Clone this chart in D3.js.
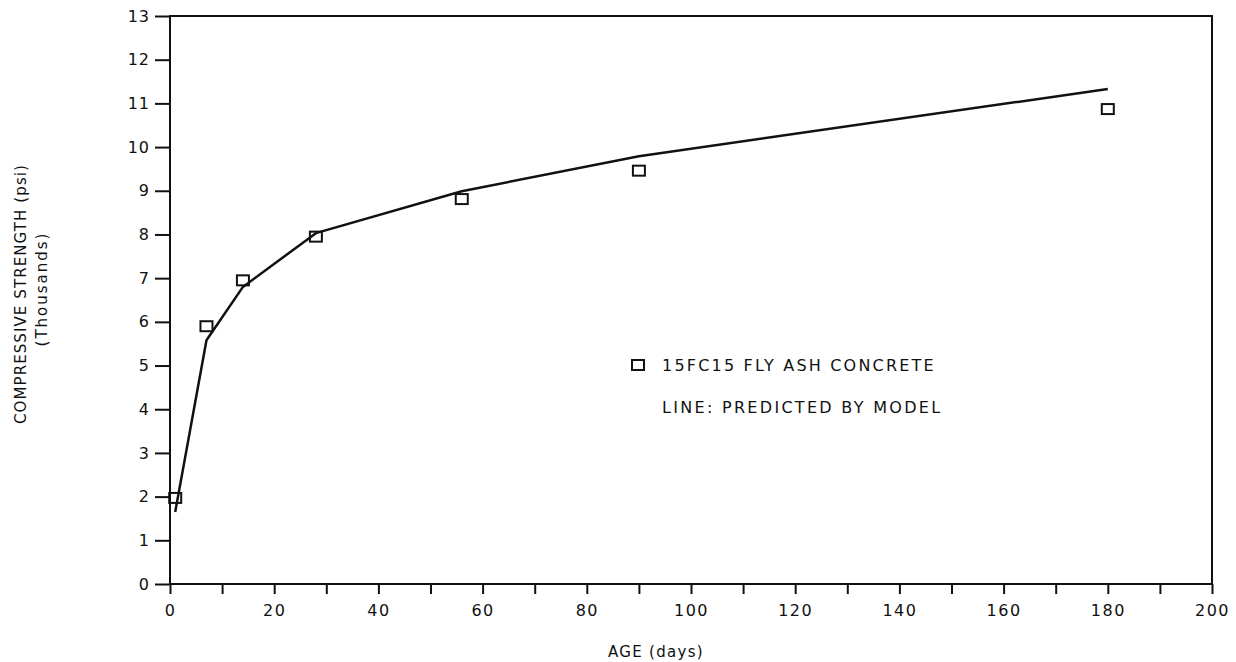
<!DOCTYPE html>
<html>
<head>
<meta charset="utf-8">
<script src="https://cdn.jsdelivr.net/npm/d3@7"></script>
<style>
  html, body { margin: 0; padding: 0; background: #fff; }
  svg { display: block; }
  text { font-family: "DejaVu Sans", sans-serif; fill: #111; }
</style>
</head>
<body>
<svg id="chart" width="1236" height="662"></svg>
<script>
// Measured data (age in days, strength in thousands psi)
const measuredAge = [1, 7, 14, 28, 56, 90, 180];
const measuredStrength = [1.97, 5.9, 6.95, 7.95, 8.81, 9.46, 10.87];

// Model line
const modelAge = [1, 7, 14, 28, 56, 90, 180];
const modelStrength = [1.65, 5.58, 6.8, 8.03, 8.99, 9.79, 11.33];

const xTicks = d3.range(0, 201, 10);
const xTickLabels = [0, 20, 40, 60, 80, 100, 120, 140, 160, 180, 200];
const yTicks = d3.range(0, 14, 1);

const legendLabels = ["15FC15 FLY ASH CONCRETE", "LINE: PREDICTED BY MODEL"];
const xTitle = "AGE (days)";
const yTitle1 = "COMPRESSIVE STRENGTH (psi)";
const yTitle2 = "(Thousands)";

const svg = d3.select("#chart");
const mLeft = 170, mRight = 1212, mTop = 16, mBottom = 584;

const x = d3.scaleLinear().domain([0, 200]).range([mLeft, mRight]);
const y = d3.scaleLinear().domain([0, 13]).range([mBottom, mTop]);

// Frame
svg.append("rect")
  .attr("x", mLeft).attr("y", mTop)
  .attr("width", mRight - mLeft).attr("height", mBottom - mTop)
  .attr("fill", "none").attr("stroke", "#111").attr("stroke-width", 2);

// Y axis
const yAxis = svg.append("g")
  .attr("transform", `translate(${mLeft},0)`)
  .call(d3.axisLeft(y).tickValues(yTicks).tickSize(15).tickPadding(5).tickFormat(d3.format("d")));
yAxis.select(".domain").remove();
yAxis.selectAll(".tick line").attr("stroke", "#111").attr("stroke-width", 2);
yAxis.selectAll(".tick text").style("font-size", "16px").attr("fill", "#111").attr("letter-spacing", "1px");

// X axis
const xAxis = svg.append("g")
  .attr("transform", `translate(0,${mBottom})`)
  .call(d3.axisBottom(x).tickValues(xTicks).tickSize(10).tickPadding(11)
    .tickFormat(d => xTickLabels.includes(d) ? d3.format("d")(d) : ""));
xAxis.select(".domain").remove();
xAxis.selectAll(".tick line").attr("stroke", "#111").attr("stroke-width", 2);
xAxis.selectAll(".tick text").style("font-size", "16px").attr("fill", "#111").attr("letter-spacing", "1.5px");

// Model line
const line = d3.line().x(d => x(d[0])).y(d => y(d[1]));
svg.append("path")
  .datum(modelAge.map((a, i) => [a, modelStrength[i]]))
  .attr("d", line)
  .attr("fill", "none").attr("stroke", "#111").attr("stroke-width", 2.5)
  .attr("stroke-linejoin", "round");

// Measured markers
const mw = 12, mh = 10;
svg.selectAll("rect.pt")
  .data(measuredAge.map((a, i) => [a, measuredStrength[i]]))
  .join("rect")
  .attr("class", "pt")
  .attr("x", d => x(d[0]) - mw / 2)
  .attr("y", d => y(d[1]) - mh / 2)
  .attr("width", mw).attr("height", mh)
  .attr("fill", "none").attr("stroke", "#111").attr("stroke-width", 2);

// Legend
svg.append("rect")
  .attr("x", 638 - mw / 2).attr("y", 365 - mh / 2)
  .attr("width", mw).attr("height", mh)
  .attr("fill", "none").attr("stroke", "#111").attr("stroke-width", 2);
svg.append("text").attr("x", 662).attr("y", 371)
  .style("font-size", "16px").attr("letter-spacing", "2.2px").text(legendLabels[0]);
svg.append("text").attr("x", 662).attr("y", 413)
  .style("font-size", "16px").attr("letter-spacing", "2.3px").text(legendLabels[1]);

// Axis titles
svg.append("text").attr("x", 656).attr("y", 657)
  .attr("text-anchor", "middle").style("font-size", "15px").attr("letter-spacing", "1.3px").text(xTitle);
svg.append("text")
  .attr("transform", "translate(26,294) rotate(-90)")
  .attr("text-anchor", "middle").style("font-size", "15px").attr("letter-spacing", "1.1px").text(yTitle1);
svg.append("text")
  .attr("transform", "translate(47,289) rotate(-90)")
  .attr("text-anchor", "middle").style("font-size", "15px").attr("letter-spacing", "2px").text(yTitle2);
</script>
</body>
</html>
